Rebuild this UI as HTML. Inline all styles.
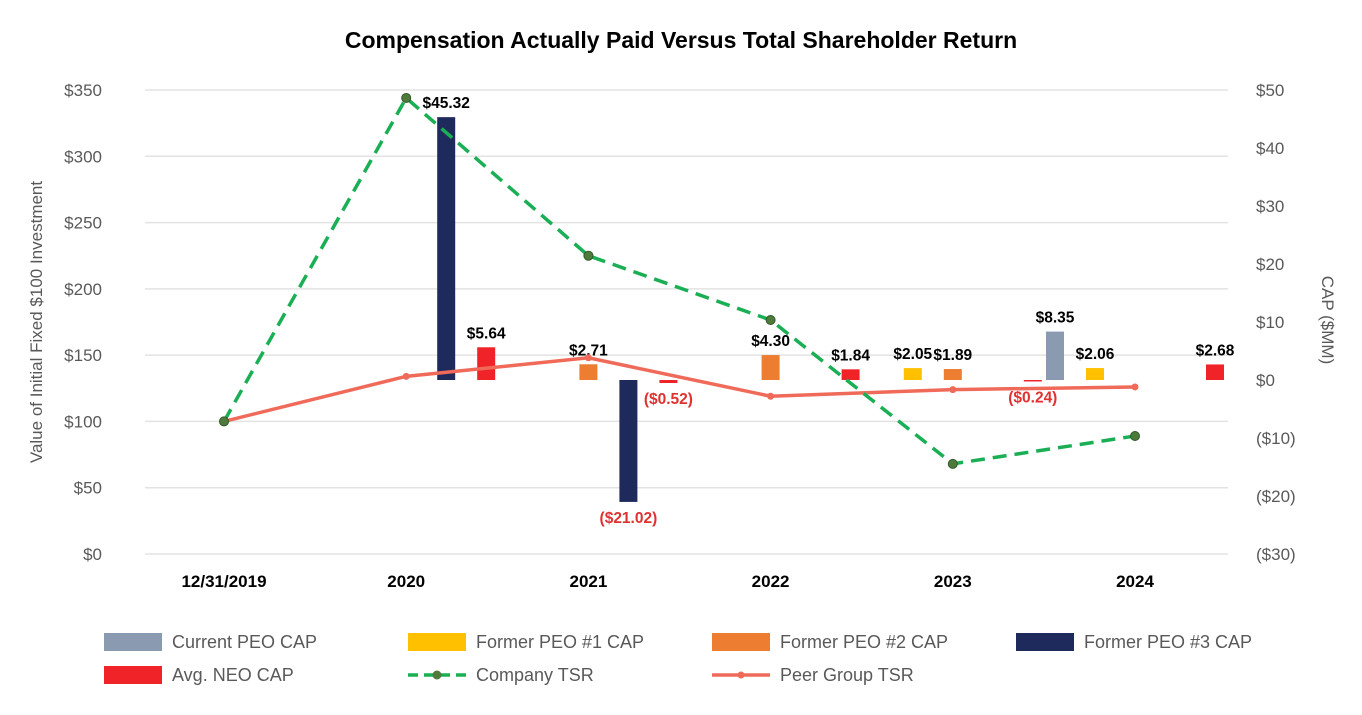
<!DOCTYPE html>
<html><head><meta charset="utf-8"><style>
body{margin:0;background:#fff;font-family:"Liberation Sans",Arial,sans-serif}
svg text{font-family:"Liberation Sans",Arial,sans-serif}
</style></head><body>
<svg id="c" width="1362" height="710"></svg>
<script>
const categories=["12/31/2019","2020","2021","2022","2023","2024"];
const leftTicks=[0,50,100,150,200,250,300,350];
const rightTicks=[-30,-20,-10,0,10,20,30,40,50];
const companyTSR=[100,344,225,176.5,68,89];
const peerTSR=[100,134,148,119,124,126];
const currentPEO=[null,null,null,null,null,8.35];
const formerPEO1=[null,null,null,null,2.05,2.06];
const formerPEO2=[null,null,2.71,4.30,1.89,null];
const formerPEO3=[null,45.32,-21.02,null,null,null];
const avgNEO=[null,5.64,-0.52,1.84,-0.24,2.68];

const svg=document.getElementById('c');const NS='http://www.w3.org/2000/svg';
function el(t,a,p){const e=document.createElementNS(NS,t);for(const k in a)e.setAttribute(k,a[k]);(p||svg).appendChild(e);return e;}
const xC=i=>224+i*182.2;
const yL=v=>554-v*464/350;
const yR=v=>380-v*5.8;
let t=el('text',{x:681,y:48,'text-anchor':'middle','font-size':23,'font-weight':'bold',fill:'#000'});t.textContent='Compensation Actually Paid Versus Total Shareholder Return';

leftTicks.forEach(v=>{const g=el('line',{x1:145,x2:1228,y1:yL(v),y2:yL(v),stroke:'#e3e3e3','stroke-width':1.5});

const l=el('text',{x:102,y:yL(v)+6,'text-anchor':'end','font-size':17,fill:'#595959'});l.textContent='$'+v;
});
rightTicks.forEach(v=>{const l=el('text',{x:1256,y:yR(v)+6,'font-size':17,fill:'#595959'});l.textContent=v<0?'($'+(-v)+')':'$'+v;
});
categories.forEach((c,i)=>{const l=el('text',{x:xC(i),y:587,'text-anchor':'middle','font-size':17,'font-weight':'bold',fill:'#000'});l.textContent=c;
});
t=el('text',{transform:'translate(42,322) rotate(-90)','text-anchor':'middle','font-size':17,fill:'#595959'});t.textContent='Value of Initial Fixed $100 Investment';

t=el('text',{transform:'translate(1322,320) rotate(90)','text-anchor':'middle','font-size':17,fill:'#595959'});t.textContent='CAP ($MM)';

const series=[[currentPEO,'#8a9ab0',-80,'current-peo-bar'],[formerPEO1,'#ffc000',-40,'former-peo1-bar'],[formerPEO2,'#ed7d31',0,'former-peo2-bar'],[formerPEO3,'#1f2a5c',40,'former-peo3-bar'],[avgNEO,'#f02428',80,'avg-neo-bar']];
series.forEach(([arr,col,off,name])=>{arr.forEach((v,i)=>{if(v==null)return;const cx=xC(i)+off;const y0=yR(0),y1=yR(v);
const r=el('rect',{x:cx-9,y:Math.min(y0,y1),width:18,height:Math.max(1.5,Math.abs(y1-y0)),fill:col});

const s=v<0?'($'+(-v).toFixed(2)+')':'$'+v.toFixed(2);
const l=el('text',{x:cx,y:v<0?Math.max(y0,y1)+21:Math.min(y0,y1)-9,'text-anchor':'middle','font-size':15.5,'font-weight':'bold',fill:v<0?'#e03030':'#000'});l.textContent=s;
});});
function line(arr,col,dash,mk,name){const p=el('polyline',{points:arr.map((v,i)=>xC(i)+','+yL(v)).join(' '),fill:'none',stroke:col,'stroke-width':3.5,'stroke-dasharray':dash});

arr.forEach((v,i)=>{const c=el('circle',{cx:xC(i),cy:yL(v),r:mk==='g'?4.5:3.5,fill:mk==='g'?'#4f7a3c':col,stroke:mk==='g'?'#2e5a28':'none'});
});}
line(peerTSR,'#f06a5a','','p','peer-group-tsr-line');
line(companyTSR,'#1aaf54','14 8','g','company-tsr-line');
const leg=[['Current PEO CAP','#8a9ab0',104,642],['Former PEO #1 CAP','#ffc000',408,642],['Former PEO #2 CAP','#ed7d31',712,642],['Former PEO #3 CAP','#1f2a5c',1016,642],['Avg. NEO CAP','#f02428',104,675]];
leg.forEach(([n,c,x,y])=>{const r=el('rect',{x:x,y:y-9,width:58,height:18,fill:c});
const l=el('text',{x:x+68,y:y+6,'font-size':18,fill:'#595959'});l.textContent=n;});
let g=el('line',{x1:408,x2:466,y1:675,y2:675,stroke:'#1aaf54','stroke-width':3.5,'stroke-dasharray':'10 6'});
g=el('circle',{cx:437,cy:675,r:4.5,fill:'#4f7a3c'});
t=el('text',{x:476,y:681,'font-size':18,fill:'#595959'});t.textContent='Company TSR';
g=el('line',{x1:712,x2:770,y1:675,y2:675,stroke:'#f06a5a','stroke-width':3.5});
g=el('circle',{cx:741,cy:675,r:3.5,fill:'#f06a5a'});
t=el('text',{x:780,y:681,'font-size':18,fill:'#595959'});t.textContent='Peer Group TSR';
</script>
</body></html>
